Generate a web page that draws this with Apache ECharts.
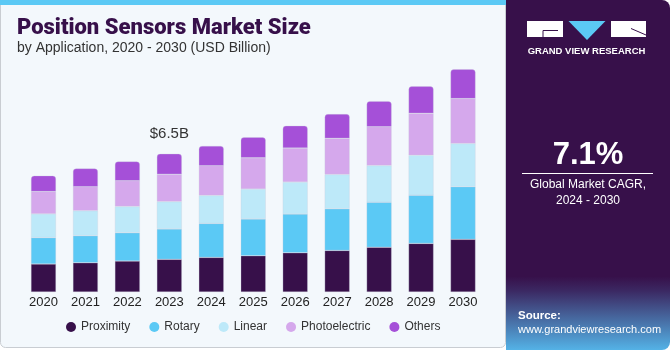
<!DOCTYPE html>
<html>
<head>
<meta charset="utf-8">
<script src="https://cdn.jsdelivr.net/npm/echarts@6/dist/echarts.min.js"></script>
<style>
  html, body { margin: 0; padding: 0; background: #ffffff; }
  #chart { width: 670px; height: 350px; }
</style>
</head>
<body>
<div id="chart"></div>
<script>
// data (USD Billion)
var years = ['2020', '2021', '2022', '2023', '2024', '2025', '2026', '2027', '2028', '2029', '2030'];
var proximity = [1.32, 1.38, 1.46, 1.54, 1.63, 1.71, 1.85, 1.96, 2.11, 2.29, 2.48];
var rotary = [1.24, 1.27, 1.33, 1.43, 1.60, 1.73, 1.82, 1.96, 2.12, 2.27, 2.48];
var linear = [1.12, 1.18, 1.24, 1.29, 1.32, 1.41, 1.51, 1.62, 1.73, 1.88, 2.04];
var photoelectric = [1.05, 1.13, 1.21, 1.29, 1.40, 1.47, 1.60, 1.70, 1.82, 1.98, 2.11];
var others = [0.75, 0.86, 0.91, 0.96, 0.93, 0.97, 1.05, 1.14, 1.21, 1.27, 1.38];
var labelYear = '2023';

var seriesNames = ['Proximity', 'Rotary', 'Linear', 'Photoelectric', 'Others'];
var seriesData = [proximity, rotary, linear, photoelectric, others];
var colors = ['#37104A', '#5BC9F5', '#BDE9F9', '#D5A8EC', '#A550D8'];

var chart = echarts.init(document.getElementById('chart'));

// total of the labelled year
var li = years.indexOf(labelYear);
var labelTotal = 0;
seriesData.forEach(function (arr) { labelTotal += arr[li]; });

var series = seriesNames.map(function (name, i) {
    var isTop = i === seriesNames.length - 1;
    var data = seriesData[i].map(function (v, j) {
        if (isTop && j === li) {
            return {
                value: v,
                label: {
                    show: true,
                    position: 'top',
                    distance: 12,
                    formatter: '$' + labelTotal.toFixed(1) + 'B',
                    fontSize: 15,
                    color: '#333333',
                    fontFamily: 'Liberation Sans'
                }
            };
        }
        return v;
    });
    return {
        name: name,
        type: 'bar',
        stack: 'total',
        barWidth: 25,
        data: data,
        itemStyle: {
            color: colors[i],
            borderColor: 'rgba(200,205,220,0.6)',
            borderWidth: 0.5,
            borderRadius: isTop ? [3, 3, 0, 0] : 0
        },
        emphasis: { disabled: true }
    };
});

var font = 'Liberation Sans';

var option = {
    animation: false,
    color: colors,
    grid: { left: 22.5, right: 186, top: 58.5, bottom: 58 },
    xAxis: {
        type: 'category',
        data: years,
        axisLine: { show: false },
        axisTick: { show: false },
        axisLabel: { margin: 4, fontSize: 13, color: '#222222', fontFamily: font }
    },
    yAxis: { type: 'value', min: 0, max: 11, show: false },
    legend: {
        left: 66,
        top: 321,
        padding: 0,
        icon: 'circle',
        itemWidth: 10,
        itemHeight: 10,
        itemGap: 19,
        itemStyle: { borderWidth: 0 },
        textStyle: { fontSize: 12, color: '#333333', fontFamily: font },
        data: seriesNames
    },
    graphic: [
        // chart panel
        { type: 'rect', z: -10, shape: { x: 0.5, y: 0, width: 505, height: 347.5, r: [0, 0, 5, 5] },
          style: { fill: '#F3F8FC', stroke: '#C9CDD2', lineWidth: 1 } },
        { type: 'rect', z: -9, shape: { x: 0, y: 0, width: 506, height: 5 },
          style: { fill: '#5BC9F5' } },
        // right panel
        { type: 'rect', z: -8, shape: { x: 506, y: 0, width: 164, height: 350, r: [0, 8, 8, 0] },
          style: {
              fill: new echarts.graphic.LinearGradient(0, 0, 0, 1, [
                  { offset: 0, color: '#37104A' },
                  { offset: 0.79, color: '#37104A' },
                  { offset: 0.83, color: '#3B2862' },
                  { offset: 1, color: '#54B2E6' }
              ])
          } },
        // logo
        { type: 'rect', shape: { x: 527, y: 21, width: 36, height: 16 }, style: { fill: '#ffffff' } },
        { type: 'polyline', shape: { points: [[558, 30.5], [543, 30.5], [543, 37]] }, style: { stroke: '#37104A', lineWidth: 1, fill: null } },
        { type: 'polygon', shape: { points: [[568.5, 21], [605.5, 21], [587, 40]] }, style: { fill: '#5BC9F5' } },
        { type: 'rect', shape: { x: 611, y: 21, width: 35, height: 16 }, style: { fill: '#ffffff' } },
        { type: 'line', shape: { x1: 631, y1: 28.5, x2: 646, y2: 35 }, style: { stroke: '#37104A', lineWidth: 1 } },
        { type: 'text', x: 586.5, y: 51.7,
          style: { text: 'GRAND VIEW RESEARCH', fill: '#ffffff', font: 'bold 9.5px ' + font, align: 'center', verticalAlign: 'middle' } },
        // CAGR block
        { type: 'text', x: 588, y: 155,
          style: { text: '7.1%', fill: '#ffffff', font: 'bold 31px ' + font, align: 'center', verticalAlign: 'middle' } },
        { type: 'line', shape: { x1: 522, y1: 173.5, x2: 653, y2: 173.5 }, style: { stroke: '#ffffff', lineWidth: 1 } },
        { type: 'text', x: 588, y: 185,
          style: { text: 'Global Market CAGR,', fill: '#ffffff', font: '12px ' + font, align: 'center', verticalAlign: 'middle' } },
        { type: 'text', x: 588, y: 201,
          style: { text: '2024 - 2030', fill: '#ffffff', font: '12px ' + font, align: 'center', verticalAlign: 'middle' } },
        // source
        { type: 'text', x: 518, y: 315.7,
          style: { text: 'Source:', fill: '#ffffff', font: 'bold 11.5px ' + font, verticalAlign: 'middle' } },
        { type: 'text', x: 518, y: 329.5,
          style: { text: 'www.grandviewresearch.com', fill: '#ffffff', font: '11px ' + font, verticalAlign: 'middle' } },
        // titles
        { type: 'text', x: 17, y: 28,
          style: { text: 'Position Sensors Market Size', fill: '#37104A', font: '900 22px Roboto', verticalAlign: 'middle' } },
        { type: 'text', x: 17, y: 48.5,
          style: { text: 'by Application, 2020 - 2030 (USD Billion)', fill: '#333333', font: '14px ' + font, verticalAlign: 'middle' } }
    ],
    series: series
};

chart.setOption(option);
</script>
</body>
</html>
